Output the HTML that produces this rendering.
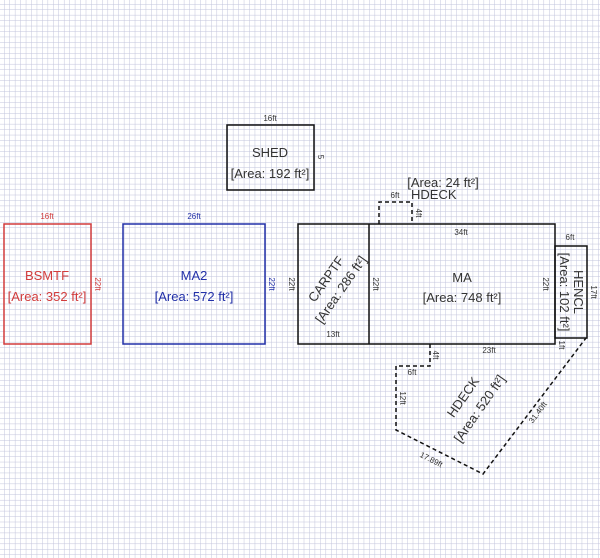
<!DOCTYPE html>
<html><head><style>html,body{margin:0;padding:0;background:#fff}svg{display:block}</style></head><body>
<svg width="600" height="558" xmlns="http://www.w3.org/2000/svg" font-family="Liberation Sans, sans-serif">
<defs><pattern id="g" x="4" y="4" width="5.45" height="5.45" patternUnits="userSpaceOnUse"><path d="M0 0H5.45M0 0V5.45" stroke="#c2c4dc" stroke-width="1" fill="none"/></pattern></defs>
<rect width="600" height="558" fill="url(#g)"/>
<g fill="none" stroke-width="1.5">
<rect x="4" y="224" width="87" height="120" stroke="#d23c3c"/>
<rect x="123" y="224" width="142" height="120" stroke="#2230a8"/>
<rect x="227" y="125" width="87" height="65" stroke="#111"/>
<rect x="298" y="224" width="257" height="120" stroke="#111"/>
<line x1="369" y1="224" x2="369" y2="344" stroke="#111"/>
<rect x="555" y="246" width="32" height="92" stroke="#111"/>
<path d="M379 224V202H412V224" stroke="#111" stroke-dasharray="4,3"/>
<path d="M430 344V366H396V430L483 474L586 338" stroke="#111" stroke-dasharray="4,3"/>
</g>
<g font-size="13" text-anchor="middle" fill="#333">
<text x="47" y="280" fill="#d23c3c">BSMTF</text>
<text x="47" y="301" fill="#d23c3c">[Area: 352 ft²]</text>
<text x="194" y="280" fill="#2230a8">MA2</text>
<text x="194" y="301" fill="#2230a8">[Area: 572 ft²]</text>
<text x="270" y="157">SHED</text>
<text x="270" y="178">[Area: 192 ft²]</text>
<text x="462" y="282">MA</text>
<text x="462" y="302">[Area: 748 ft²]</text>
<text x="443" y="187">[Area: 24 ft²]</text>
<text x="411" y="199" text-anchor="start">HDECK</text>
<g transform="translate(333,284) rotate(-55)"><text y="-4">CARPTF</text><text y="14">[Area: 286 ft²]</text></g>
<g transform="translate(570,292) rotate(90)"><text y="-4">HENCL</text><text y="10">[Area: 102 ft²]</text></g>
<g transform="translate(470,402) rotate(-55)"><text y="-4">HDECK</text><text y="16">[Area: 520 ft²]</text></g>
</g>
<g font-size="8" text-anchor="middle" fill="#333">
<text x="47" y="219" fill="#d23c3c">16ft</text>
<text x="194" y="219" fill="#2230a8">26ft</text>
<text x="270" y="121">16ft</text>
<text x="395" y="198">6ft</text>
<text x="461" y="235">34ft</text>
<text x="570" y="240">6ft</text>
<text x="333" y="337">13ft</text>
<text x="489" y="353">23ft</text>
<text x="412" y="375">6ft</text>
<text transform="translate(430,462) rotate(27)">17.89ft</text>
<text transform="translate(540,414) rotate(-53)">31.40ft</text>
<text transform="translate(95,284) rotate(90)" fill="#d23c3c">22ft</text>
<text transform="translate(269,284) rotate(90)" fill="#2230a8">22ft</text>
<text transform="translate(289,284) rotate(90)">22ft</text>
<text transform="translate(373,284) rotate(90)">22ft</text>
<text transform="translate(543,284) rotate(90)">22ft</text>
<text transform="translate(591,292) rotate(90)">17ft</text>
<text transform="translate(318,157) rotate(90)">5</text>
<text transform="translate(416,213) rotate(90)">4ft</text>
<text transform="translate(433,355) rotate(90)">4ft</text>
<text transform="translate(400,398) rotate(90)">12ft</text>
<text transform="translate(559,345) rotate(90)">1ft</text>
</g>
</svg>
</body></html>
